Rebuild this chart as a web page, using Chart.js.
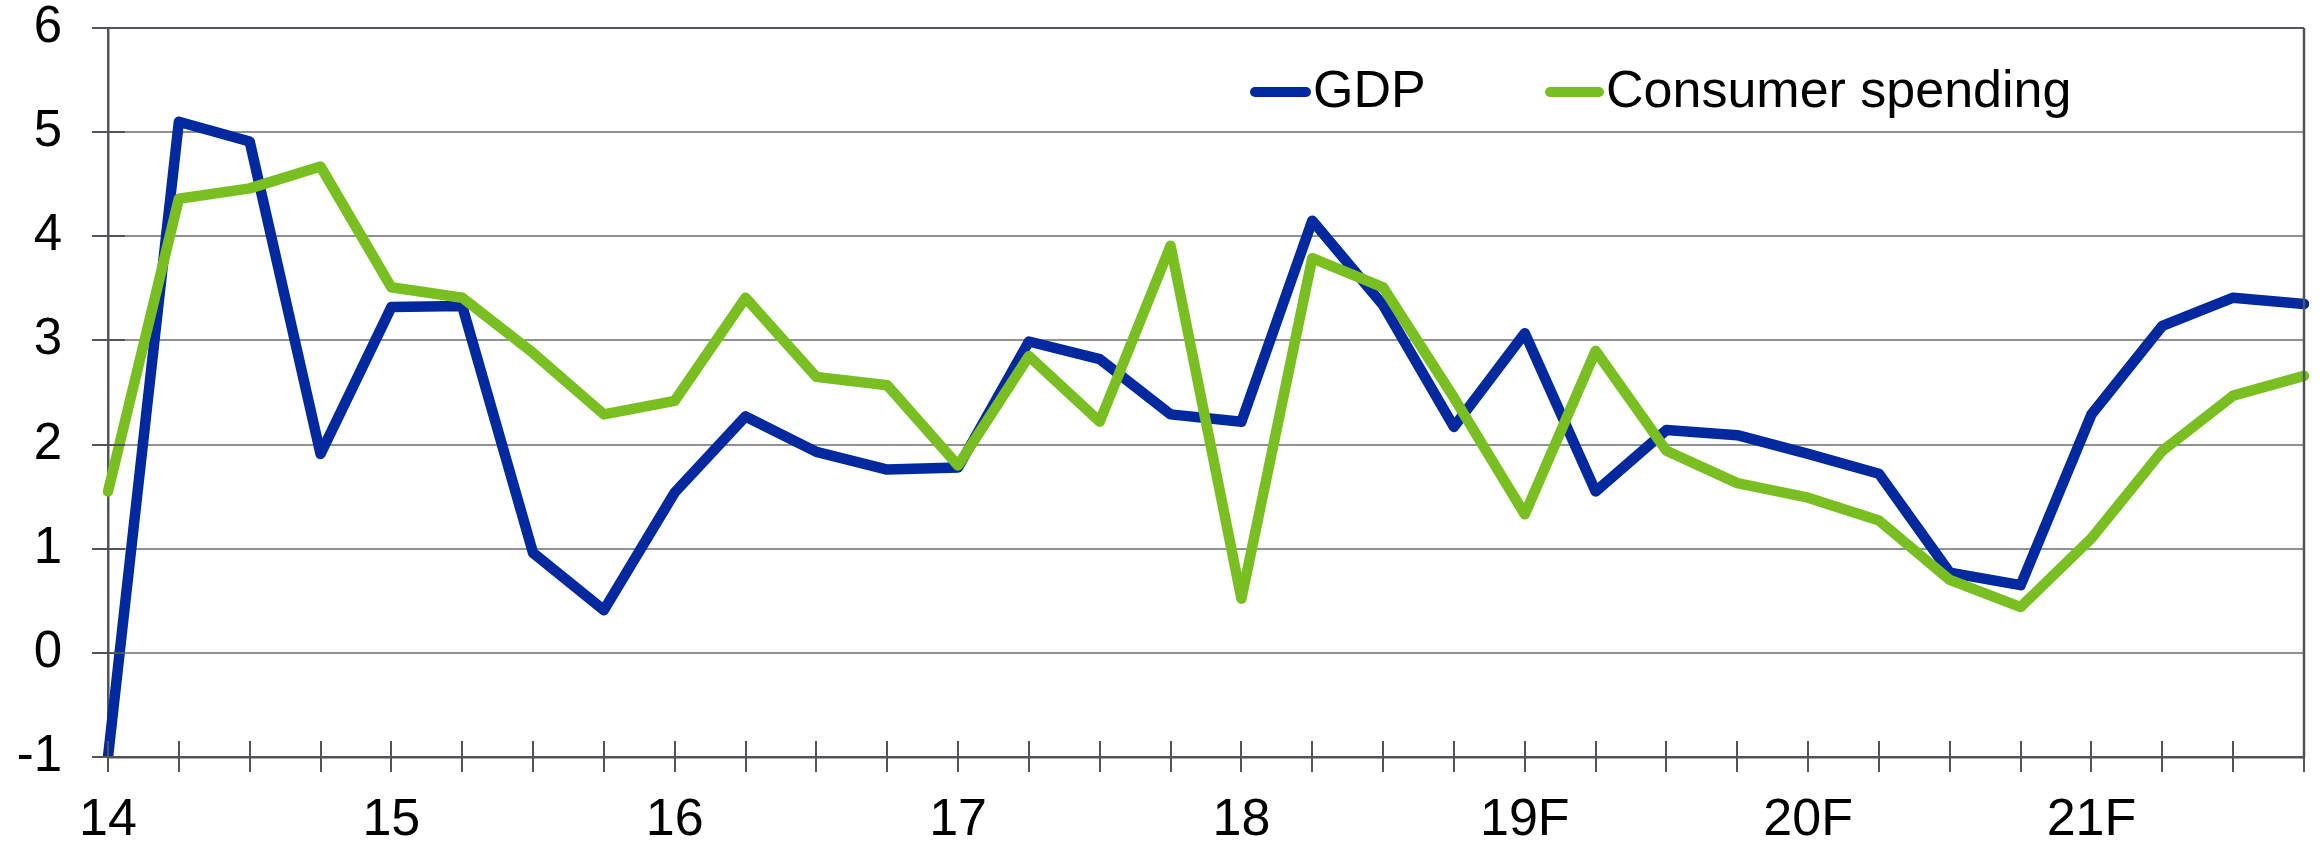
<!DOCTYPE html>
<html><head><meta charset="utf-8">
<script src="https://cdn.jsdelivr.net/npm/chart.js@4/dist/chart.umd.min.js"></script>
<style>html,body{margin:0;padding:0;background:#fff;overflow:hidden;} canvas{display:block;}</style>
</head><body>
<canvas id="c" width="2323" height="843"></canvas>
<script>
const quarters = ['14Q1','14Q2','14Q3','14Q4','15Q1','15Q2','15Q3','15Q4','16Q1','16Q2','16Q3','16Q4','17Q1','17Q2','17Q3','17Q4',
  '18Q1','18Q2','18Q3','18Q4','19Q1','19Q2','19Q3','19Q4','20Q1','20Q2','20Q3','20Q4','21Q1','21Q2','21Q3','21Q4'];
const yearLabels = ['14','15','16','17','18','19F','20F','21F'];
const gdp = [-1.0, 5.10, 4.91, 1.91, 3.32, 3.33, 0.96, 0.41, 1.54, 2.27, 1.93, 1.76, 1.78, 2.99, 2.82, 2.29,
  2.22, 4.15, 3.34, 2.17, 3.07, 1.55, 2.14, 2.09, 1.91, 1.72, 0.77, 0.65, 2.29, 3.14, 3.41, 3.35];
const consumer = [1.55, 4.36, 4.46, 4.67, 3.51, 3.41, 2.88, 2.29, 2.42, 3.41, 2.65, 2.57, 1.80, 2.85, 2.22, 3.91,
  0.52, 3.79, 3.51, 2.45, 1.33, 2.90, 1.94, 1.63, 1.49, 1.27, 0.70, 0.44, 1.10, 1.94, 2.47, 2.66];
const seriesNames = ['GDP', 'Consumer spending'];

const BLUE = '#0029A0', GREEN = '#7ABF22';
const AXIS = '#51555a', GRID = '#8f9194';
const FONT = '"Liberation Sans", Arial, sans-serif';

const frameTicks = {
  id: 'frameTicks',
  afterDraw(chart) {
    const ctx = chart.ctx, a = chart.chartArea;
    const xs = chart.scales.x, ys = chart.scales.y;
    ctx.save();
    ctx.strokeStyle = AXIS; ctx.lineWidth = 2;
    ctx.beginPath();
    for (let i = 0; i < xs.ticks.length; i++) {
      const px = Math.round(xs.getPixelForTick(i));
      ctx.moveTo(px, a.bottom + 15); ctx.lineTo(px, a.bottom - 16);
    }
    ys.ticks.forEach((t, i) => {
      const py = Math.round(ys.getPixelForTick(i));
      ctx.moveTo(a.left - 16, py); ctx.lineTo(a.left + 17, py);
    });
    ctx.stroke();
    ctx.lineWidth = 2.5;
    ctx.beginPath();
    ctx.moveTo(a.right, a.top); ctx.lineTo(a.right, a.bottom);
    ctx.stroke();
    ctx.restore();
  }
};

const legendInside = {
  id: 'legendInside',
  afterDraw(chart) {
    const ctx = chart.ctx;
    const items = [
      {name: seriesNames[0], color: BLUE, x0: 1250, x1: 1311, tx: 1313},
      {name: seriesNames[1], color: GREEN, x0: 1545, x1: 1604, tx: 1606}
    ];
    ctx.save();
    ctx.font = '52px ' + FONT;
    ctx.textBaseline = 'middle';
    ctx.fillStyle = '#000';
    items.forEach(it => {
      ctx.strokeStyle = it.color; ctx.lineWidth = 10; ctx.lineCap = 'round';
      ctx.beginPath(); ctx.moveTo(it.x0 + 5, 92); ctx.lineTo(it.x1 - 5, 92); ctx.stroke();
      ctx.fillText(it.name, it.tx, 93);
    });
    ctx.restore();
  }
};

new Chart(document.getElementById('c'), {
  type: 'line',
  data: {
    labels: quarters,
    datasets: [
      {label: seriesNames[0], data: gdp, borderColor: BLUE, backgroundColor: BLUE, borderWidth: 10.5,
       pointRadius: 0, tension: 0, borderJoinStyle: 'round', borderCapStyle: 'round', order: 1},
      {label: seriesNames[1], data: consumer, borderColor: GREEN, backgroundColor: GREEN, borderWidth: 10.5,
       pointRadius: 0, tension: 0, borderJoinStyle: 'round', borderCapStyle: 'round', order: 0}
    ]
  },
  options: {
    responsive: false,
    animation: false,
    devicePixelRatio: 1,
    layout: {padding: {top: 28, right: 19, left: 0, bottom: 0}},
    plugins: {legend: {display: false}, tooltip: {enabled: false}},
    scales: {
      x: {
        type: 'category', offset: false,
        border: {display: true, color: AXIS, width: 2.5},
        grid: {display: true, drawOnChartArea: false, drawTicks: true, tickLength: 32, tickWidth: 0, color: 'rgba(0,0,0,0)'},
        ticks: {autoSkip: false, maxRotation: 0, minRotation: 0, padding: 0, color: '#000',
          font: {family: FONT, size: 52},
          callback: (v, i) => (i % 4 === 0 ? yearLabels[i / 4] : '')},
        afterFit: s => { s.height = 86; }
      },
      y: {
        min: -1, max: 6,
        border: {display: true, color: AXIS, width: 2.5},
        grid: {color: c => (c.tick && c.tick.value === 6 ? AXIS : GRID), lineWidth: 2, tickLength: 46, tickWidth: 0},
        ticks: {stepSize: 1, padding: 0, color: '#000', font: {family: FONT, size: 51, lineHeight: 1}},
        afterFit: s => { s.width = 108; }
      }
    }
  },
  plugins: [frameTicks, legendInside]
});
</script>
</body></html>
